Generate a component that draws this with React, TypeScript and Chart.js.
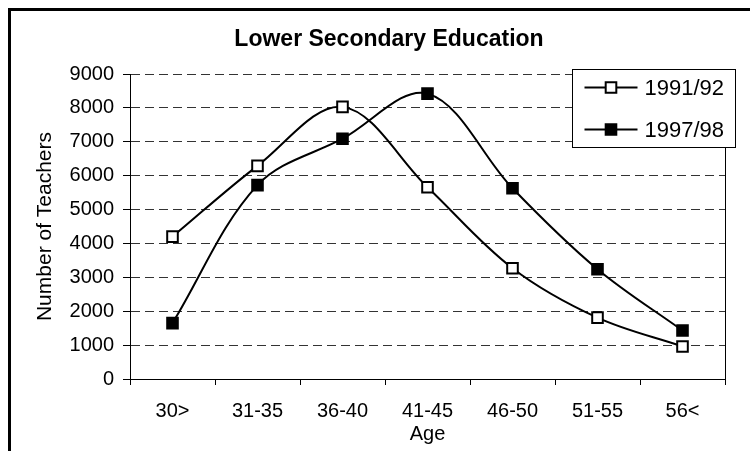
import React, { useEffect, useRef } from 'react';
import { Chart, registerables } from 'chart.js';

Chart.register(...registerables);

// Chart content
const chartTitle = 'Lower Secondary Education';
const ageGroups = ['30>', '31-35', '36-40', '41-45', '46-50', '51-55', '56<'];
const seriesNames = ['1991/92', '1997/98'];
const teachers1991 = [4200, 6290, 8030, 5660, 3270, 1810, 960];
const teachers1997 = [1650, 5720, 7090, 8420, 5630, 3240, 1430];
const yMin = 0;
const yMax = 9000;
const yStep = 1000;
const xAxisTitle = 'Age';
const yAxisTitle = 'Number of Teachers';

const FONT = "'Liberation Sans', Arial, Helvetica, sans-serif";
const POINT_R = 7.5;

function drawSquare(ctx: CanvasRenderingContext2D, x: number, y: number, r: number, fill: string) {
  const h = r * Math.SQRT1_2;
  ctx.beginPath();
  ctx.rect(x - h, y - h, 2 * h, 2 * h);
  ctx.fillStyle = fill;
  ctx.fill();
  ctx.lineWidth = 2;
  ctx.strokeStyle = '#000';
  ctx.stroke();
}

// Draws the plot's right edge, the heading and the boxed legend
const decorations = {
  id: 'decorations',
  beforeDatasetsDraw(chart: any) {
    const { ctx, chartArea: a } = chart;
    ctx.save();
    ctx.strokeStyle = '#000';
    ctx.lineWidth = 1;
    const x = Math.round(a.right) + 0.5;
    ctx.beginPath();
    ctx.moveTo(x, a.top);
    ctx.lineTo(x, a.bottom);
    ctx.stroke();
    ctx.restore();
  },
  afterDraw(chart: any) {
    const { ctx, chartArea: a } = chart;
    ctx.save();
    ctx.font = `bold 23px ${FONT}`;
    ctx.fillStyle = '#000';
    ctx.textAlign = 'center';
    ctx.textBaseline = 'alphabetic';
    ctx.fillText(chartTitle, chart.width / 2, a.top - 28);

    const w = 163;
    const h = 78;
    const left = Math.round(a.right + 10 - w) + 0.5;
    const top = Math.round(a.top - 5) + 0.5;
    ctx.fillStyle = '#fff';
    ctx.fillRect(left, top, w, h);
    ctx.strokeStyle = '#000';
    ctx.lineWidth = 1;
    ctx.strokeRect(left, top, w, h);
    chart.data.datasets.forEach((ds: any, i: number) => {
      const y = top + 18 + i * 42;
      ctx.beginPath();
      ctx.moveTo(left + 12, y);
      ctx.lineTo(left + 65, y);
      ctx.lineWidth = 2;
      ctx.strokeStyle = '#000';
      ctx.stroke();
      drawSquare(ctx, left + 38.5, y, POINT_R, ds.pointBackgroundColor);
      ctx.font = `22px ${FONT}`;
      ctx.fillStyle = '#000';
      ctx.textAlign = 'left';
      ctx.textBaseline = 'middle';
      ctx.fillText(ds.label, left + 72, y + 1);
    });
    ctx.restore();
  },
};

export default function App() {
  const ref = useRef<HTMLCanvasElement>(null);

  useEffect(() => {
    if (!ref.current) return;
    const lineStyle = {
      borderColor: '#000',
      borderWidth: 2,
      pointStyle: 'rect' as const,
      pointRadius: POINT_R,
      pointHoverRadius: POINT_R,
      pointBorderWidth: 2,
      pointBorderColor: '#000',
      tension: 0.35,
      fill: false,
    };
    const chart = new Chart(ref.current, {
      type: 'line',
      data: {
        labels: ageGroups,
        datasets: [
          { ...lineStyle, label: seriesNames[0], data: teachers1991, pointBackgroundColor: '#fff' },
          { ...lineStyle, label: seriesNames[1], data: teachers1997, pointBackgroundColor: '#000' },
        ],
      },
      options: {
        responsive: false,
        animation: false,
        layout: { padding: { top: 63, right: 42, left: 0, bottom: 0 } },
        plugins: {
          legend: { display: false },
          tooltip: { enabled: false },
          title: { display: false },
        },
        scales: {
          x: {
            type: 'category',
            offset: true,
            grid: {
              display: true,
              offset: true,
              drawOnChartArea: false,
              drawTicks: true,
              tickLength: 6,
              color: '#000',
              lineWidth: 1,
            },
            border: { display: true, color: '#000', width: 1 },
            ticks: {
              padding: 14,
              color: '#000',
              font: { size: 20, family: FONT },
              maxRotation: 0,
              autoSkip: false,
            },
            title: {
              display: true,
              text: xAxisTitle,
              color: '#000',
              font: { size: 20, family: FONT },
              padding: { top: 0, bottom: 5 },
            },
            afterFit: (s: any) => {
              s.height = 72;
            },
          },
          y: {
            min: yMin,
            max: yMax,
            ticks: {
              stepSize: yStep,
              padding: 9,
              color: '#000',
              font: { size: 20, family: FONT },
              callback: (v: any) => String(v),
            },
            grid: {
              color: '#333',
              lineWidth: 1,
              tickLength: 7,
              tickColor: '#000',
              tickBorderDash: [],
              drawTicks: true,
            },
            border: { display: true, color: '#000', width: 1, dash: [9, 5] },
            title: {
              display: true,
              text: yAxisTitle,
              color: '#000',
              font: { size: 21, family: FONT },
              padding: { top: 22, bottom: 0 },
            },
            afterFit: (s: any) => {
              s.width = 119;
            },
          },
        },
      } as any,
      plugins: [decorations],
    });
    return () => chart.destroy();
  }, []);

  return (
    <div
      style={{
        position: 'fixed',
        left: 8,
        top: 8,
        width: 742,
        height: 443,
        boxSizing: 'border-box',
        borderTop: '3px solid #000',
        borderLeft: '3px solid #000',
        overflow: 'hidden',
        background: '#fff',
      }}
    >
      <canvas ref={ref} width={756} height={440} style={{ display: 'block' }} />
    </div>
  );
}
